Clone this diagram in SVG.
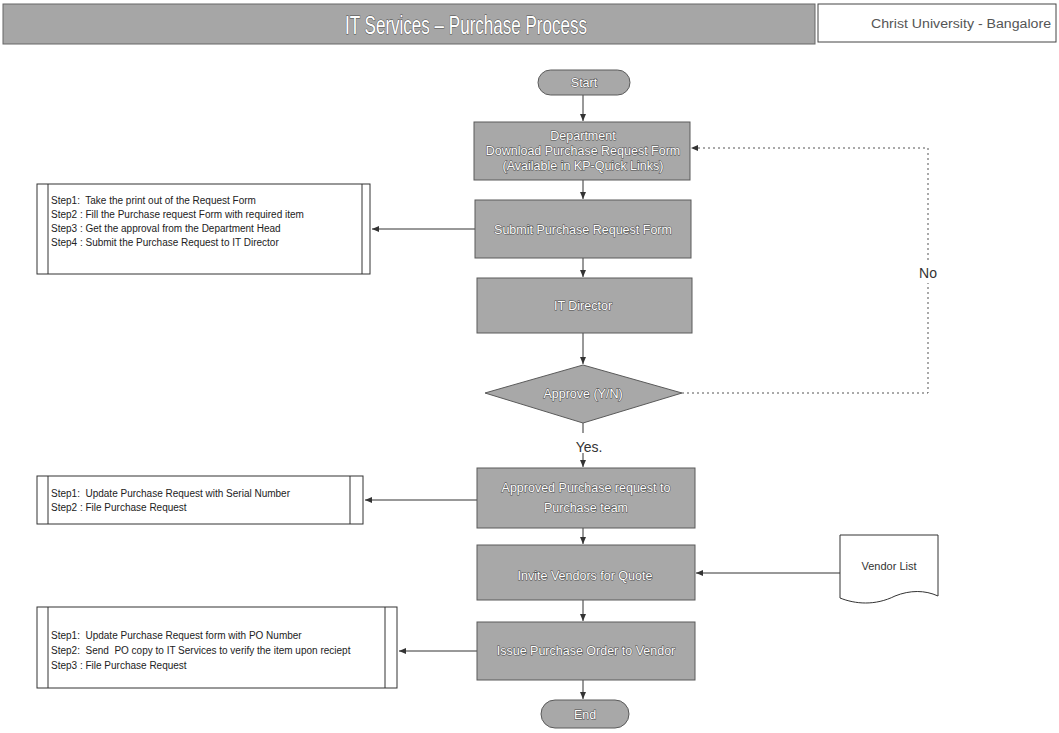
<svg xmlns="http://www.w3.org/2000/svg" width="1059" height="733" viewBox="0 0 1059 733">
<style>
.bg{fill:#ffffff}
.proc{fill:#a8a8a8;stroke:#5a5a5a;stroke-width:1}
.pt{font-family:"Liberation Sans",Arial,sans-serif;font-size:12.5px;fill:#ffffff;stroke:#4a4a4a;stroke-width:1;paint-order:stroke;text-anchor:middle}
.note{fill:#ffffff;stroke:#333;stroke-width:1}
.nt{font-family:"Liberation Sans",Arial,sans-serif;font-size:10px;fill:#222;white-space:pre}
.conn{fill:none;stroke:#333;stroke-width:1}
.dot{fill:none;stroke:#555;stroke-width:1;stroke-dasharray:2 3}
.lbl{font-family:"Liberation Sans",Arial,sans-serif;font-size:14px;fill:#333}
</style>
<defs>
<marker id="ah" markerWidth="8" markerHeight="8" refX="7" refY="4" orient="auto" markerUnits="userSpaceOnUse">
<path d="M0,1 L7,4 L0,7 Z" fill="#333"/>
</marker>
</defs>
<rect class="bg" x="0" y="0" width="1059" height="733"/>

<g id="header">
<rect x="3" y="4" width="812" height="40" fill="#a6a6a6" stroke="#666" stroke-width="1"/>
<text x="466" y="34" font-family="'Liberation Sans',Arial,sans-serif" font-size="26" fill="#ffffff" stroke="#4a4a4a" stroke-width="1" paint-order="stroke" text-anchor="middle" textLength="242" lengthAdjust="spacingAndGlyphs">IT Services – Purchase Process</text>
</g>
<g id="university">
<rect x="818" y="4" width="238" height="38" fill="#fff" stroke="#444" stroke-width="1"/>
<text x="961" y="28" font-family="'Liberation Sans',Arial,sans-serif" font-size="12" fill="#555" text-anchor="middle" textLength="180" lengthAdjust="spacingAndGlyphs">Christ University - Bangalore</text>
</g>

<g id="connectors">
<line class="conn" x1="583" y1="95" x2="583" y2="121" marker-end="url(#ah)"/>
<line class="conn" x1="583" y1="180" x2="583" y2="199" marker-end="url(#ah)"/>
<line class="conn" x1="583" y1="258" x2="583" y2="277" marker-end="url(#ah)"/>
<line class="conn" x1="583" y1="333" x2="583" y2="364" marker-end="url(#ah)"/>
<line class="conn" x1="583" y1="423" x2="583" y2="433"/>
<line class="conn" x1="583" y1="453" x2="583" y2="467" marker-end="url(#ah)"/>
<line class="conn" x1="583" y1="528" x2="583" y2="544" marker-end="url(#ah)"/>
<line class="conn" x1="583" y1="600" x2="583" y2="621" marker-end="url(#ah)"/>
<line class="conn" x1="583" y1="680" x2="583" y2="699" marker-end="url(#ah)"/>
<line class="conn" x1="475" y1="229" x2="372" y2="229" marker-end="url(#ah)"/>
<line class="conn" x1="477" y1="500" x2="365" y2="500" marker-end="url(#ah)"/>
<line class="conn" x1="477" y1="651" x2="399" y2="651" marker-end="url(#ah)"/>
<line class="conn" x1="840" y1="573" x2="696" y2="573" marker-end="url(#ah)"/>
<path class="dot" d="M682,393 H928 V283"/>
<path class="dot" d="M928,260 V148 H691" marker-end="url(#ah)"/>
<text class="lbl" x="928" y="278" text-anchor="middle">No</text>
<text class="lbl" x="589" y="452" text-anchor="middle">Yes.</text>
</g>

<g id="start">
<rect class="proc" x="538" y="70" width="92" height="25" rx="12.5"/>
<text class="pt" x="584" y="87">Start</text>
</g>
<g id="department">
<rect class="proc" x="474" y="122" width="216" height="58"/>
<text class="pt" x="583" y="140">Department</text>
<text class="pt" x="583" y="155">Download Purchase Request Form</text>
<text class="pt" x="583" y="170">(Available in KP-Quick Links)</text>
</g>
<g id="submit">
<rect class="proc" x="475" y="200" width="216" height="58"/>
<text class="pt" x="583" y="234">Submit Purchase Request Form</text>
</g>
<g id="itdirector">
<rect class="proc" x="477" y="278" width="215" height="55"/>
<text class="pt" x="583" y="310">IT Director</text>
</g>
<g id="approve">
<polygon class="proc" points="583,365 682,393 583,423 485,393"/>
<text class="pt" x="583" y="398">Approve (Y/N)</text>
</g>
<g id="approved">
<rect class="proc" x="477" y="468" width="218" height="60"/>
<text class="pt" x="586" y="492">Approved Purchase request to</text>
<text class="pt" x="586" y="512">Purchase team</text>
</g>
<g id="invite">
<rect class="proc" x="477" y="545" width="218" height="55"/>
<text class="pt" x="585" y="580">Invite Vendors for Quote</text>
</g>
<g id="issue">
<rect class="proc" x="477" y="622" width="218" height="58"/>
<text class="pt" x="586" y="655">Issue Purchase Order to Vendor</text>
</g>
<g id="end">
<rect class="proc" x="541" y="700" width="88" height="28" rx="14"/>
<text class="pt" x="585" y="719">End</text>
</g>

<g id="steps1">
<rect class="note" x="37" y="184" width="333" height="90"/>
<line class="conn" x1="48" y1="184" x2="48" y2="274"/>
<line class="conn" x1="362" y1="184" x2="362" y2="274"/>
<text class="nt" x="51" y="204">Step1:  Take the print out of the Request Form</text>
<text class="nt" x="51" y="218">Step2 : Fill the Purchase request Form with required item</text>
<text class="nt" x="51" y="232">Step3 : Get the approval from the Department Head</text>
<text class="nt" x="51" y="246">Step4 : Submit the Purchase Request to IT Director</text>
</g>
<g id="steps2">
<rect class="note" x="37" y="476" width="326" height="48"/>
<line class="conn" x1="48" y1="476" x2="48" y2="524"/>
<line class="conn" x1="350" y1="476" x2="350" y2="524"/>
<text class="nt" x="51" y="497">Step1:  Update Purchase Request with Serial Number</text>
<text class="nt" x="51" y="511">Step2 : File Purchase Request</text>
</g>
<g id="steps3">
<rect class="note" x="37" y="607" width="360" height="81"/>
<line class="conn" x1="48" y1="607" x2="48" y2="688"/>
<line class="conn" x1="385" y1="607" x2="385" y2="688"/>
<text class="nt" x="51" y="639">Step1:  Update Purchase Request form with PO Number</text>
<text class="nt" x="51" y="654">Step2:  Send  PO copy to IT Services to verify the item upon reciept</text>
<text class="nt" x="51" y="669">Step3 : File Purchase Request</text>
</g>
<g id="vendorlist">
<path d="M840,535 H938 V596 C925,590 910,590 895,596 C875,606 855,604 840,598 Z" fill="#fff" stroke="#333" stroke-width="1"/>
<text x="889" y="570" font-family="'Liberation Sans',Arial,sans-serif" font-size="11" fill="#333" text-anchor="middle">Vendor List</text>
</g>
</svg>
